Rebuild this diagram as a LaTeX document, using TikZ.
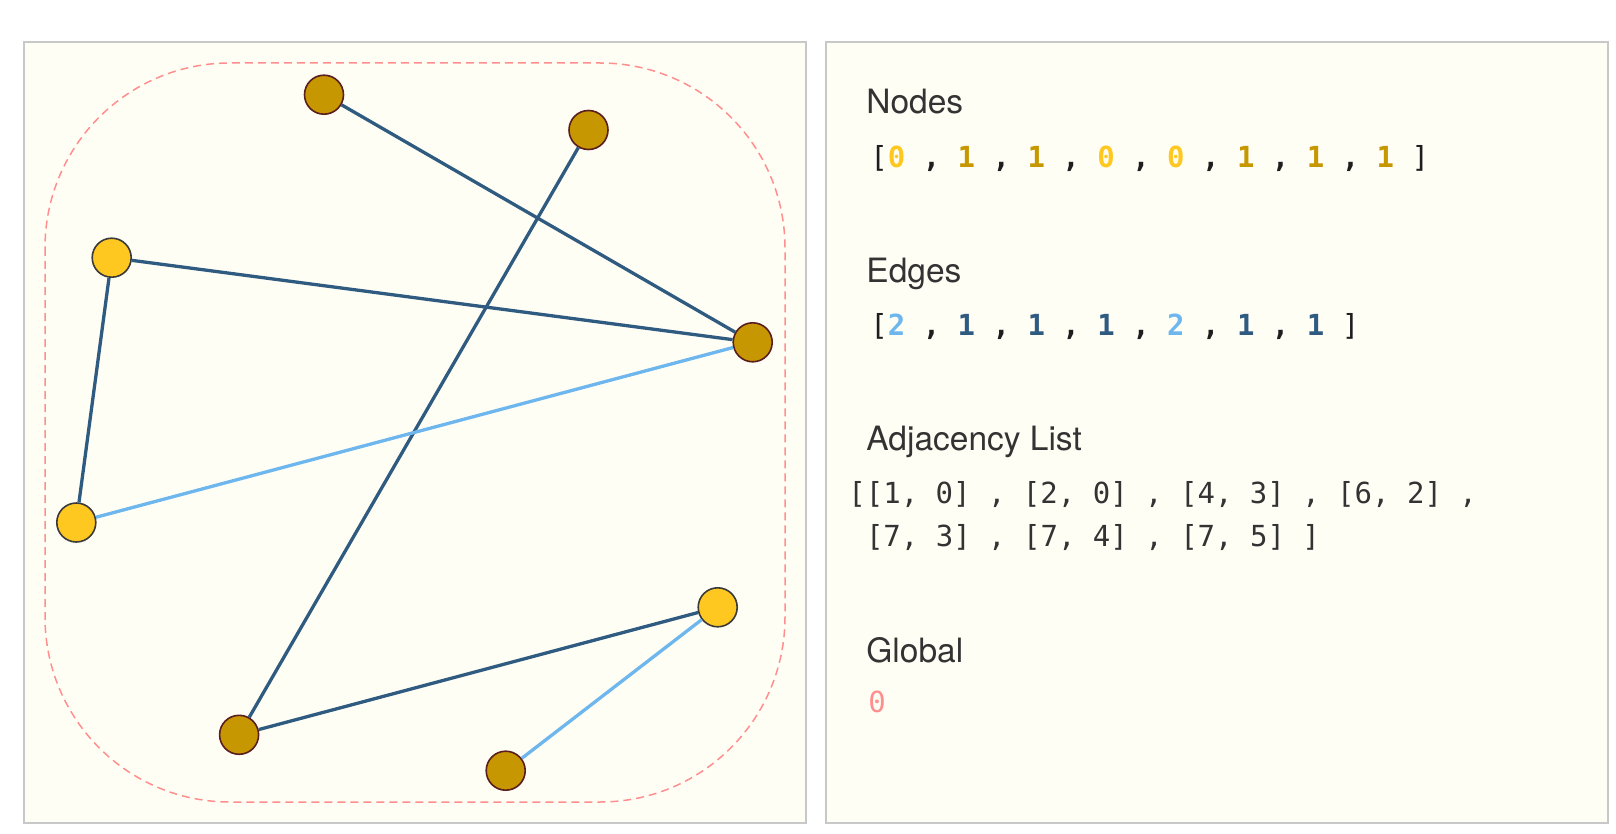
\documentclass[tikz,border=0pt]{standalone}
\usepackage{fontspec}
\setmainfont{TeX Gyre Heros}
\newfontfamily\codefont{DejaVu Sans Mono}
\usepackage{xcolor}

\definecolor{panelbg}{HTML}{FFFEF5}
\definecolor{panelline}{HTML}{C8C8C8}
\definecolor{hullred}{HTML}{FF8F8F}
\definecolor{goldfill}{HTML}{C69700}
\definecolor{goldline}{HTML}{5A1E1E}
\definecolor{yellowfill}{HTML}{FFC820}
\definecolor{yellowline}{HTML}{3A3A3A}
\definecolor{edgedark}{HTML}{2F5B81}
\definecolor{edgelight}{HTML}{6DB6EE}
\definecolor{labelgray}{HTML}{333333}
\definecolor{codeblack}{HTML}{1E1E1E}

\tikzset{
  panel/.style={draw=panelline, line width=1pt, fill=panelbg},
  hull/.style={draw=hullred, line width=0.75pt, dash pattern=on 4pt off 2.5pt, rounded corners=92.5pt},
  vtx/.style={circle, minimum size=19.5pt, inner sep=0pt, line width=0.8pt},
  goldvtx/.style={vtx, fill=goldfill, draw=goldline},
  yellowvtx/.style={vtx, fill=yellowfill, draw=yellowline},
  darkedge/.style={draw=edgedark, line width=1.65pt},
  lightedge/.style={draw=edgelight, line width=1.65pt},
  heading/.style={anchor=base west, inner sep=0pt, text=labelgray, font=\fontsize{16.75pt}{20pt}\selectfont},
  code/.style={anchor=base west, inner sep=0pt, text=codeblack, font=\codefont\fontsize{14.5pt}{17pt}\selectfont},
}

% array entries: bold digits and separators, plain brackets
\newcommand{\zy}[1]{\textcolor{yellowfill}{\bfseries #1}}
\newcommand{\zg}[1]{\textcolor{goldfill}{\bfseries #1}}
\newcommand{\el}[1]{\textcolor{edgelight}{\bfseries #1}}
\newcommand{\ed}[1]{\textcolor{edgedark}{\bfseries #1}}
\newcommand{\sep}{{\bfseries\ ,\ }}

\begin{document}
\begin{tikzpicture}[x=0.5pt, y=-0.5pt]
  \useasboundingbox (0,0) rectangle (1616,834);
  \fill[white] (0,0) rectangle (1616,834);

  % two panels
  \draw[panel] (23.5,41.7) rectangle (805.7,823.3);
  \draw[panel] (825.5,41.7) rectangle (1608,823.3);

  % dashed hull around the graph
  \draw[hull] (45,63) rectangle (785,802);

  % vertices
  \node[goldvtx]   (a) at (324,94.7) {};
  \node[goldvtx]   (b) at (588.5,130) {};
  \node[yellowvtx] (c) at (111.7,257.7) {};
  \node[goldvtx]   (d) at (752.7,342.3) {};
  \node[yellowvtx] (e) at (76.3,522.5) {};
  \node[yellowvtx] (f) at (717.7,607.3) {};
  \node[goldvtx]   (g) at (239.1,734.8) {};
  \node[goldvtx]   (h) at (505.7,770.7) {};

  % edges
  \draw[darkedge]  (a) -- (d);
  \draw[darkedge]  (b) -- (g);
  \draw[darkedge]  (c) -- (d);
  \draw[darkedge]  (c) -- (e);
  \draw[lightedge] (d) -- (e);
  \draw[darkedge]  (f) -- (g);
  \draw[lightedge] (f) -- (h);

  % data panel
  \node[heading] (nodeshead) at (866,114) {Nodes};
  \node[code] (nodesarr) at (870,167.7)
    {[\zy{0}\sep\zg{1}\sep\zg{1}\sep\zy{0}\sep\zy{0}\sep\zg{1}\sep\zg{1}\sep\zg{1}\ ]};

  \node[heading] (edgeshead) at (866,282) {Edges};
  \node[code] (edgesarr) at (870,335.7)
    {[\el{2}\sep\ed{1}\sep\ed{1}\sep\ed{1}\sep\el{2}\sep\ed{1}\sep\ed{1}\ ]};

  \node[heading] (adjhead) at (866,450) {Adjacency List};
  \node[code, text=labelgray] (adjone) at (848,503)
    {[[1, 0] , [2, 0] , [4, 3] , [6, 2] ,};
  \node[code, text=labelgray] (adjtwo) at (865.6,546)
    {[7, 3] , [7, 4] , [7, 5] ]};

  \node[heading] (globalhead) at (866,662) {Global};
  \node[code, text=hullred] (globalval) at (868,712) {0};
\end{tikzpicture}
\end{document}
